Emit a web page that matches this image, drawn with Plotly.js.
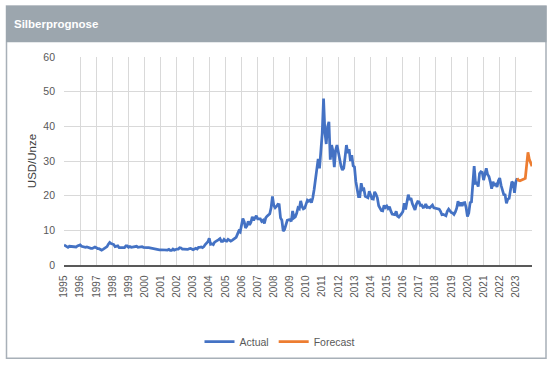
<!DOCTYPE html>
<html>
<head>
<meta charset="utf-8">
<script src="https://cdn.plot.ly/plotly-3.0.1.min.js"></script>
<style>
  html, body { margin: 0; padding: 0; background: #ffffff; }
  #chart { width: 552px; height: 368px; }
</style>
</head>
<body>
<div id="chart"></div>
<script>
// Year tick labels (one label every 12 monthly points); last tick is the right edge
const yearLabels = ['1995','1996','1997','1998','1999','2000','2001','2002','2003','2004',
  '2005','2006','2007','2008','2009','2010','2011','2012','2013','2014','2015','2016',
  '2017','2018','2019','2020','2021','2022','2023',''];

// Actual silver price, USD/oz, monthly points (first point at the 1995 tick)
const actualValues = [
  5.8, 5.5, 5.2, 5.1, 5.4, 5.4, 5.3, 5.2, 5.2, 5.2,
  5.5, 5.6, 5.8, 5.4, 5.3, 5.1, 5.1, 5.2, 5.0, 4.8, 4.8, 4.8,
  4.9, 5.2, 5.0, 4.7, 4.7, 4.6, 4.3, 4.5, 4.8, 4.9, 5.3, 6.0,
  6.5, 6.2, 6.0, 5.9, 5.3, 5.3, 5.5, 5.0, 5.0, 4.9, 5.0, 5.0,
  5.5, 5.5, 5.1, 5.3, 5.1, 5.2, 5.3, 5.2, 5.4, 5.1, 5.2, 5.4,
  5.3, 5.1, 5.0, 5.0, 5.0, 5.0, 4.9, 4.9, 4.9, 4.8, 4.7, 4.6,
  4.5, 4.4, 4.4, 4.4, 4.4, 4.4, 4.2, 4.3, 4.5, 4.2, 4.2, 4.6,
  4.3, 4.5, 4.6, 4.6, 5.0, 4.9, 4.6, 4.6, 4.5, 4.4, 4.5, 4.7,
  4.8, 4.6, 4.4, 4.6, 4.8, 4.6, 5.1, 5.1, 5.2, 5.0, 5.3, 5.9,
  6.3, 6.7, 7.7, 6.0, 6.1, 5.9, 6.6, 6.8, 6.9, 7.3, 7.6, 6.8,
  6.8, 7.4, 7.0, 6.9, 7.4, 7.0, 6.9, 7.1, 7.5, 7.7, 8.0, 8.9,
  9.8, 9.5, 11.5, 13.4, 12.5, 10.7, 11.3, 12.6, 11.6, 12.3, 13.9, 12.9,
  13.6, 14.2, 13.3, 13.2, 13.3, 12.6, 12.9, 12.0, 13.6, 14.1, 14.6, 14.8,
  16.5, 19.8, 17.2, 16.5, 16.9, 17.5, 17.4, 13.6, 12.9, 9.8, 10.2, 11.3,
  12.9, 13.0, 13.1, 12.6, 15.6, 13.6, 13.9, 14.9, 16.5, 16.2, 18.5, 16.9,
  16.2, 16.4, 17.5, 18.7, 18.4, 18.7, 18.0, 19.4, 21.8, 24.5, 28.1, 30.6,
  27.9, 33.9, 37.9, 48.0, 38.3, 34.9, 39.9, 41.3, 30.4, 34.6, 32.8, 28.2,
  33.2, 34.6, 32.5, 31.3, 28.5, 27.4, 27.9, 31.1, 34.6, 32.3, 33.4, 30.0,
  31.7, 28.6, 28.3, 24.1, 22.2, 19.7, 19.7, 23.6, 21.7, 21.9, 19.8, 19.5,
  19.4, 21.3, 19.8, 19.1, 19.0, 21.1, 20.4, 19.4, 17.1, 16.2, 15.7, 15.6,
  17.2, 16.6, 17.0, 16.3, 16.8, 15.6, 14.7, 14.6, 14.5, 15.5, 14.1, 13.8,
  14.2, 14.8, 15.4, 17.8, 16.0, 18.4, 20.3, 18.8, 19.3, 17.7, 16.5, 15.9,
  17.5, 18.3, 18.2, 17.2, 17.3, 16.6, 16.7, 17.6, 16.6, 16.7, 16.5, 16.9,
  17.3, 16.5, 16.4, 16.3, 16.4, 16.1, 15.5, 14.5, 14.6, 14.3, 14.2, 15.5,
  16.1, 15.6, 15.1, 15.0, 14.6, 15.3, 16.4, 18.4, 17.0, 18.0, 17.0, 17.9,
  18.0, 16.6, 14.0, 15.0, 18.0, 18.2, 24.4, 28.5, 23.6, 23.7, 22.6, 26.4,
  26.9, 26.7, 24.5, 25.9, 27.9, 26.1, 25.5, 24.0, 22.0, 24.0, 23.1, 23.3,
  22.5, 24.3, 25.1, 23.0, 21.7, 20.3, 20.2, 17.8, 19.0, 19.2, 21.6, 24.0,
  23.6, 20.8, 24.0, 25.0
];

// Forecast, monthly points, starting at the last actual point
const forecastValues = [25.0, 24.4, 24.3, 24.4, 24.6, 24.8, 25.0, 29.0, 32.5, 30.5, 29.3, 28.5];

const actualX = actualValues.map((v, i) => i);
const forecastStart = actualValues.length - 1;
const forecastX = forecastValues.map((v, i) => forecastStart + i);
const tickVals = yearLabels.map((v, i) => i * 12);

// helpers: pixel -> paper
const L = 64, R = 532, T = 57, B = 269;
const px = x => (x - L) / (R - L);
const py = y => (B - y) / (B - T);

const traces = [
  { x: actualX, y: actualValues, type: 'scatter', mode: 'lines', name: 'Actual',
    line: { color: '#4472C4', width: 2.75 } },
  { x: forecastX, y: forecastValues, type: 'scatter', mode: 'lines', name: 'Forecast',
    line: { color: '#ED7D31', width: 2.75 } }
];

const layout = {
  width: 552, height: 368,
  margin: { l: L, r: 552 - R, t: T, b: 368 - B, pad: 0 },
  paper_bgcolor: 'rgba(0,0,0,0)',
  plot_bgcolor: 'rgba(0,0,0,0)',
  font: { family: 'Liberation Sans, Arial, sans-serif', color: '#595959', size: 10 },
  title: {
    text: '<b>Silberprognose</b>',
    font: { family: 'Liberation Sans, Arial, sans-serif', size: 11.5, color: '#ffffff' },
    xref: 'container', yref: 'container',
    x: 14 / 552, xanchor: 'left',
    y: 1 - 24 / 368, yanchor: 'middle'
  },
  xaxis: {
    range: [0, 348],
    tickmode: 'array', tickvals: tickVals, ticktext: yearLabels,
    tickangle: -90,
    tickfont: { size: 10, color: '#595959' },
    ticklabelstandoff: 5,
    showgrid: true, gridcolor: '#d9d9d9', gridwidth: 1,
    showline: true, linecolor: '#595959', linewidth: 1.5,
    ticks: '', zeroline: false, fixedrange: true
  },
  yaxis: {
    range: [0, 60], dtick: 10, tick0: 0,
    tickfont: { size: 10.5, color: '#595959' },
    showgrid: true, gridcolor: '#d9d9d9', gridwidth: 1,
    zeroline: false, showline: false, ticks: '',
    ticklabelstandoff: 8,
    title: { text: 'USD/Unze', font: { size: 11.5, color: '#404040' }, standoff: 4 },
    fixedrange: true
  },
  showlegend: true,
  legend: {
    orientation: 'h', x: px(280), xanchor: 'center', y: py(347), yanchor: 'middle',
    font: { size: 10.5, color: '#595959' }, itemwidth: 30, tracegroupgap: 0,
    bgcolor: 'rgba(0,0,0,0)'
  },
  shapes: [
    { type: 'rect', xref: 'paper', yref: 'paper', layer: 'below',
      x0: px(6.5), x1: px(546), y0: py(364), y1: py(5),
      line: { color: '#a8b0b8', width: 1.5 }, fillcolor: '#ffffff' },
    { type: 'rect', xref: 'paper', yref: 'paper', layer: 'below',
      x0: px(6), x1: px(546.5), y0: py(42), y1: py(5),
      line: { width: 0 }, fillcolor: '#9ca6ae' }
  ]
};

Plotly.newPlot('chart', traces, layout, { displayModeBar: false, staticPlot: true });
</script>
</body>
</html>
